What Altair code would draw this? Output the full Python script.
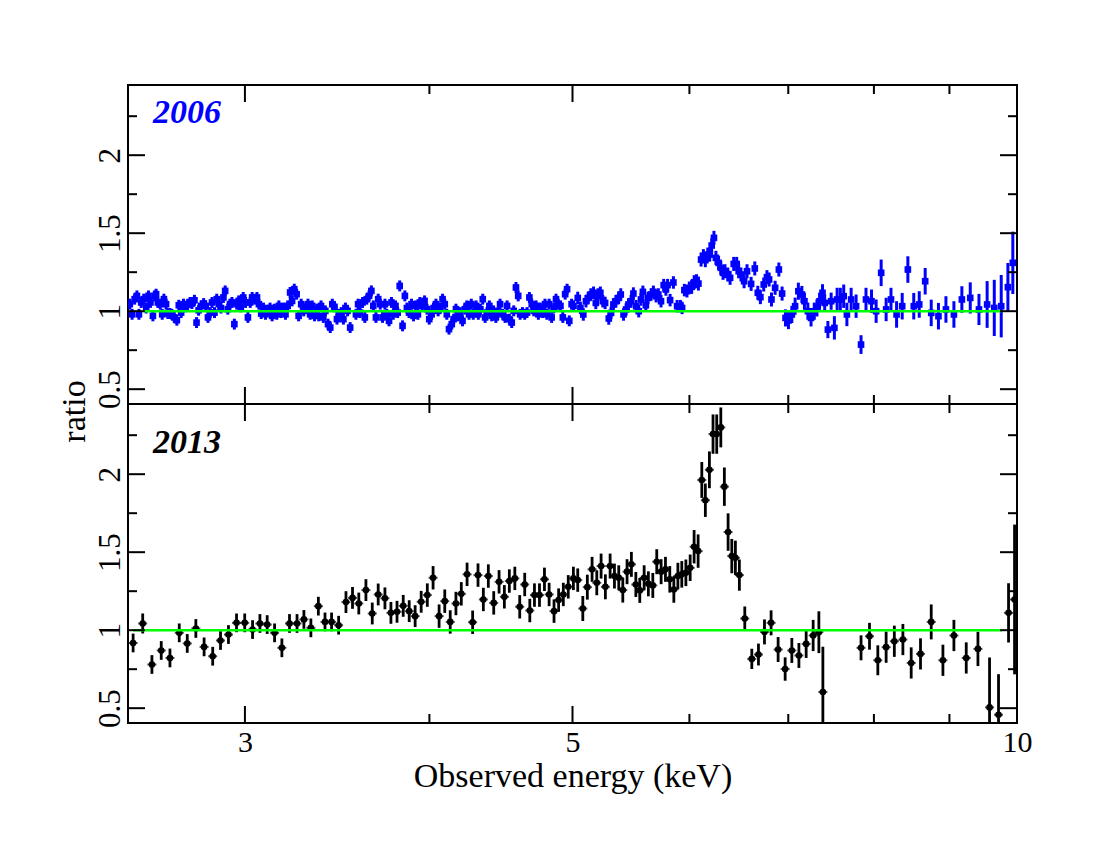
import altair as alt
import pandas as pd

# ---------------- data ----------------
energy_2006 = [
    2.507, 2.516, 2.526, 2.535, 2.543, 2.552, 2.562, 2.572, 2.581, 2.589,
    2.599, 2.606, 2.612, 2.619, 2.629, 2.637, 2.644, 2.653, 2.660, 2.669,
    2.677, 2.687, 2.698, 2.706, 2.716, 2.726, 2.735, 2.744, 2.754, 2.762,
    2.773, 2.782, 2.791, 2.802, 2.813, 2.822, 2.832, 2.842, 2.850, 2.861,
    2.871, 2.880, 2.890, 2.901, 2.909, 2.921, 2.931, 2.940, 2.951, 2.962,
    2.971, 2.981, 2.992, 3.003, 3.014, 3.025, 3.034, 3.046, 3.057, 3.066,
    3.077, 3.088, 3.098, 3.109, 3.120, 3.130, 3.141, 3.153, 3.163, 3.174,
    3.186, 3.196, 3.207, 3.219, 3.229, 3.240, 3.252, 3.262, 3.275, 3.288,
    3.298, 3.310, 3.321, 3.332, 3.344, 3.356, 3.366, 3.378, 3.390, 3.401,
    3.415, 3.427, 3.438, 3.450, 3.463, 3.473, 3.486, 3.498, 3.509, 3.521,
    3.535,
    3.567, 3.579, 3.590, 3.604, 3.617, 3.628, 3.641, 3.654, 3.665, 3.680,
    3.693, 3.705, 3.718, 3.732, 3.743, 3.756, 3.770, 3.781, 3.794, 3.807,
    3.819, 3.836, 3.850, 3.862, 3.875, 3.890, 3.902, 3.915, 3.929, 3.941,
    3.955, 3.970, 3.985, 3.999, 4.014, 4.026, 4.041, 4.055, 4.068, 4.083,
    4.097, 4.110, 4.124, 4.142, 4.154, 4.169, 4.184, 4.197, 4.212, 4.227,
    4.240, 4.255, 4.270, 4.283, 4.302, 4.317, 4.331, 4.347, 4.363, 4.376,
    4.392, 4.408, 4.421, 4.437, 4.452, 4.466, 4.485, 4.501, 4.515, 4.531,
    4.548, 4.562, 4.578, 4.594, 4.608, 4.625, 4.641, 4.658, 4.675, 4.692,
    4.707, 4.724, 4.741, 4.755, 4.773, 4.790, 4.804, 4.821, 4.840, 4.856,
    4.873, 4.890, 4.907, 4.925, 4.943, 4.958, 4.975, 4.993, 5.008,
    5.041, 5.062, 5.085, 5.106, 5.124, 5.145, 5.167, 5.185, 5.203, 5.222,
    5.242, 5.261, 5.291, 5.310, 5.329, 5.350, 5.373, 5.391, 5.414, 5.436,
    5.456, 5.478, 5.498, 5.521, 5.544, 5.563, 5.580, 5.606, 5.625, 5.652,
    5.672, 5.696, 5.716, 5.740, 5.764, 5.784, 5.799, 5.822, 5.852, 5.886,
    5.916, 5.932, 5.953, 5.977, 5.999, 6.021, 6.045, 6.067, 6.085, 6.110,
    6.132, 6.151, 6.174, 6.193, 6.212, 6.234, 6.253, 6.279, 6.301, 6.323,
    6.342, 6.370, 6.393, 6.429, 6.459, 6.479, 6.502, 6.534, 6.564, 6.606,
    6.644, 6.675, 6.702, 6.737, 6.771, 6.794, 6.819, 6.858, 6.898, 6.933,
    6.970, 7.002, 7.039, 7.075, 7.111, 7.150, 7.179, 7.217, 7.253, 7.290,
    7.320, 7.350, 7.384, 7.409, 7.446, 7.484, 7.522, 7.554, 7.592, 7.632,
    7.670, 7.721, 7.781, 7.841, 7.902, 7.970, 8.028, 8.091, 8.154, 8.216,
    8.288, 8.361, 8.435, 8.513, 8.586, 8.666, 8.748, 8.847, 8.951, 9.063,
    9.176, 9.297, 9.424, 9.545, 9.652, 9.757, 9.859, 9.935,
]
ratio_2006 = [
    1.045, 0.980, 1.077, 1.098, 0.980, 1.056, 1.077, 1.020, 1.098, 1.056,
    0.970, 1.098, 1.109, 1.056, 1.045, 0.980, 1.077, 1.045, 0.985, 0.985,
    0.980, 0.960, 0.942, 1.038, 0.991, 1.045, 1.028, 1.045, 1.056, 1.049,
    1.070, 0.927, 1.006, 1.034, 1.049, 1.034, 0.960, 0.991, 1.056, 0.991,
    1.077, 1.045, 1.020, 1.088, 1.130, 1.013, 1.045, 1.056, 0.917, 1.045,
    1.066, 1.028, 1.088, 1.056, 0.960, 1.056, 1.088, 1.077, 1.088, 1.045,
    0.985, 1.020, 0.980, 1.006, 1.020, 0.970, 1.013, 0.980, 1.034, 0.991,
    1.020, 0.980, 1.034, 1.120, 1.066, 1.141, 1.109, 0.970, 1.045, 1.002,
    1.020, 1.045, 0.980, 1.034, 0.970, 1.013, 0.970, 1.034, 0.960, 1.002,
    0.917, 0.895, 1.045, 1.028, 0.949, 0.980, 0.991, 0.949, 1.020, 1.002,
    0.895,
    0.980, 1.045, 0.991, 1.056, 0.960, 1.077, 1.098, 1.130, 1.034, 0.960,
    1.077, 1.045, 0.960, 1.045, 0.980, 0.938, 1.056, 0.980, 1.034, 0.991,
    1.162, 0.906, 1.098, 1.020, 0.991, 1.045, 0.970, 1.034, 0.980, 1.056,
    1.034, 1.066, 1.013, 0.949, 0.980, 1.020, 1.045, 1.002, 1.020, 1.077,
    1.045, 0.980, 0.885, 0.917, 0.949, 1.013, 0.970, 0.991, 0.938, 1.013,
    1.034, 0.980, 1.045, 0.980, 1.034, 0.980, 1.013, 1.077, 0.960, 0.991,
    1.034, 0.970, 1.002, 0.960, 0.991, 1.045, 0.980, 0.960, 1.034, 0.949,
    0.927, 1.002, 1.152, 1.098, 0.980, 0.991, 0.980, 0.991, 1.088, 1.045,
    1.002, 1.034, 0.980, 1.020, 0.991, 1.045, 0.980, 1.045, 0.960, 1.020,
    1.077, 1.045, 1.034, 0.960, 1.109, 1.141, 0.938, 1.045, 1.034,
    1.085, 1.021, 0.979, 1.064, 1.085, 1.107, 1.118, 1.053, 1.107, 1.118,
    1.064, 1.053, 0.953, 0.989, 1.043, 1.064, 1.085, 1.107, 0.979, 1.011,
    1.043, 1.064, 1.113, 1.032, 1.000, 1.075, 1.124, 1.038, 1.085, 1.107,
    1.124, 1.096, 1.107, 1.064, 1.167, 1.139, 1.167, 1.071, 1.184, 1.032,
    1.032, 1.021, 1.135, 1.128, 1.150, 1.156, 1.186, 1.192, 1.177, 1.331,
    1.353, 1.327, 1.363, 1.363, 1.421, 1.470, 1.342, 1.310, 1.278, 1.246,
    1.256, 1.235, 1.214, 1.303, 1.303, 1.256, 1.235, 1.192, 1.256, 1.175,
    1.274, 1.118, 1.090, 1.171, 1.218, 1.203, 1.075, 1.150, 1.267, 1.113,
    0.957, 0.940, 0.979, 1.032, 1.128, 1.107, 1.064, 1.000, 0.957, 1.000,
    1.021, 1.064, 1.118, 1.053, 0.882, 1.064, 0.893, 1.075, 1.075, 1.096,
    0.979, 1.075, 1.032, 0.786, 1.075, 1.064, 1.000, 1.246, 1.011, 1.075,
    0.979, 1.032, 1.267, 1.032, 1.043, 1.192, 0.989, 0.968, 1.011, 0.979,
    1.075, 1.085, 1.011, 1.043, 1.021, 1.032, 1.154, 1.310,
]
error_2006 = [
    0.035, 0.035, 0.035, 0.035, 0.035, 0.035, 0.035, 0.035, 0.035, 0.035,
    0.035, 0.035, 0.035, 0.035, 0.035, 0.035, 0.035, 0.035, 0.035, 0.035,
    0.035, 0.035, 0.035, 0.035, 0.035, 0.035, 0.035, 0.035, 0.035, 0.035,
    0.035, 0.035, 0.035, 0.035, 0.035, 0.035, 0.035, 0.035, 0.035, 0.035,
    0.035, 0.035, 0.035, 0.035, 0.035, 0.035, 0.035, 0.035, 0.035, 0.035,
    0.035, 0.035, 0.035, 0.035, 0.035, 0.035, 0.035, 0.035, 0.035, 0.035,
    0.035, 0.035, 0.035, 0.035, 0.035, 0.035, 0.035, 0.035, 0.035, 0.035,
    0.035, 0.035, 0.035, 0.035, 0.035, 0.035, 0.035, 0.035, 0.035, 0.035,
    0.035, 0.035, 0.035, 0.035, 0.035, 0.035, 0.035, 0.035, 0.035, 0.035,
    0.035, 0.035, 0.035, 0.035, 0.035, 0.035, 0.035, 0.035, 0.035, 0.035,
    0.035,
    0.035, 0.035, 0.035, 0.035, 0.035, 0.035, 0.035, 0.035, 0.035, 0.035,
    0.035, 0.035, 0.035, 0.035, 0.035, 0.035, 0.035, 0.035, 0.035, 0.035,
    0.035, 0.035, 0.035, 0.035, 0.035, 0.035, 0.035, 0.035, 0.035, 0.035,
    0.035, 0.035, 0.035, 0.035, 0.035, 0.035, 0.035, 0.035, 0.035, 0.035,
    0.035, 0.035, 0.035, 0.035, 0.035, 0.035, 0.035, 0.035, 0.035, 0.035,
    0.035, 0.035, 0.035, 0.035, 0.035, 0.035, 0.035, 0.035, 0.035, 0.035,
    0.035, 0.035, 0.035, 0.035, 0.035, 0.035, 0.035, 0.035, 0.035, 0.035,
    0.035, 0.035, 0.035, 0.035, 0.035, 0.035, 0.035, 0.035, 0.035, 0.035,
    0.035, 0.035, 0.035, 0.035, 0.035, 0.035, 0.035, 0.035, 0.035, 0.035,
    0.035, 0.035, 0.035, 0.035, 0.035, 0.035, 0.035, 0.035, 0.035,
    0.040, 0.040, 0.040, 0.040, 0.040, 0.040, 0.040, 0.040, 0.040, 0.040,
    0.040, 0.040, 0.040, 0.040, 0.040, 0.040, 0.040, 0.040, 0.040, 0.040,
    0.040, 0.040, 0.040, 0.040, 0.040, 0.040, 0.040, 0.040, 0.040, 0.040,
    0.040, 0.040, 0.040, 0.040, 0.040, 0.040, 0.040, 0.040, 0.040, 0.040,
    0.040, 0.040, 0.040, 0.040, 0.040, 0.045, 0.045, 0.045, 0.045, 0.045,
    0.045, 0.045, 0.045, 0.045, 0.045, 0.045, 0.045, 0.045, 0.045, 0.045,
    0.045, 0.045, 0.045, 0.045, 0.045, 0.045, 0.045, 0.045, 0.045, 0.045,
    0.045, 0.045, 0.045, 0.045, 0.045, 0.045, 0.045, 0.045, 0.045, 0.045,
    0.055, 0.055, 0.055, 0.055, 0.055, 0.055, 0.055, 0.055, 0.055, 0.055,
    0.055, 0.055, 0.055, 0.055, 0.055, 0.055, 0.075, 0.075, 0.075, 0.075,
    0.075, 0.075, 0.075, 0.060, 0.075, 0.075, 0.075, 0.085, 0.075, 0.075,
    0.085, 0.085, 0.085, 0.085, 0.085, 0.085, 0.085, 0.085, 0.085, 0.085,
    0.085, 0.100, 0.100, 0.150, 0.180, 0.200, 0.155, 0.200,
]

energy_2013 = [
    2.520, 2.558, 2.595, 2.633, 2.669, 2.708, 2.742, 2.779, 2.815, 2.853,
    2.888, 2.924, 2.961, 2.999, 3.036, 3.071, 3.106, 3.142, 3.178, 3.216,
    3.254, 3.289, 3.325, 3.364, 3.399, 3.434, 3.472, 3.512, 3.548, 3.583,
    3.623, 3.659, 3.693, 3.732, 3.767, 3.803, 3.840, 3.876, 3.912, 3.949,
    3.987, 4.023, 4.061, 4.097, 4.132, 4.169, 4.204, 4.242, 4.279, 4.315,
    4.351, 4.385, 4.422, 4.459, 4.496, 4.531, 4.570, 4.605, 4.641, 4.678,
    4.712, 4.749, 4.786, 4.821, 4.858, 4.893, 4.929, 4.967, 5.007, 5.041,
    5.081, 5.117, 5.155, 5.193, 5.228, 5.263, 5.302, 5.338, 5.374, 5.408,
    5.444, 5.481, 5.519, 5.553, 5.591, 5.628, 5.667, 5.702, 5.741, 5.780,
    5.819, 5.856, 5.893, 5.929, 5.967, 6.007, 6.044, 6.082, 6.117, 6.151,
    6.190, 6.225, 6.261, 6.301, 6.336, 6.373, 6.410, 6.446, 6.486, 6.541,
    6.613, 6.682, 6.745, 6.815, 6.890, 6.966, 7.039, 7.117, 7.198, 7.277,
    7.342, 7.388, 7.841, 7.945, 8.049, 8.154, 8.259, 8.370, 8.479, 8.603,
    8.748, 8.909, 9.063, 9.239, 9.409, 9.581, 9.716, 9.869, 9.962,
]
ratio_2013 = [
    0.918, 1.043, 0.780, 0.870, 0.822, 0.983, 0.915, 1.011, 0.893, 0.833,
    0.934, 0.972, 1.047, 1.047, 1.004, 1.043, 1.036, 0.983, 0.887, 1.043,
    1.043, 1.069, 1.015, 1.154, 1.053, 1.053, 1.032, 1.180, 1.207, 1.171,
    1.257, 1.107, 1.229, 1.204, 1.111, 1.118, 1.156, 1.122, 1.090, 1.182,
    1.225, 1.336, 1.090, 1.186, 1.053, 1.171, 1.233, 1.358, 1.051, 1.353,
    1.197, 1.347, 1.175, 1.310, 1.214, 1.315, 1.332, 1.150, 1.293, 1.126,
    1.225, 1.225, 1.326, 1.229, 1.122, 1.193, 1.229, 1.278, 1.332, 1.321,
    1.139, 1.276, 1.390, 1.304, 1.411, 1.278, 1.411, 1.347, 1.336, 1.257,
    1.375, 1.422, 1.293, 1.255, 1.336, 1.297, 1.287, 1.439, 1.375, 1.390,
    1.326, 1.261, 1.347, 1.358, 1.368, 1.400, 1.535, 1.507, 1.963, 1.833,
    2.028, 2.257, 2.257, 2.300, 1.920, 1.629, 1.475, 1.464, 1.353, 1.075,
    0.816, 0.844, 0.989, 1.047, 0.876, 0.751, 0.870, 0.838, 0.912, 0.966,
    0.987, 0.604, 0.887, 0.961, 0.807, 0.891, 0.929, 0.940, 0.790, 0.848,
    1.053, 0.807, 0.966, 0.822, 0.880, 0.505, 0.458, 1.111, 1.197,
]
error_2013 = [
    0.060, 0.064, 0.060, 0.060, 0.060, 0.060, 0.060, 0.060, 0.060, 0.060,
    0.060, 0.060, 0.060, 0.060, 0.060, 0.060, 0.060, 0.060, 0.060, 0.060,
    0.060, 0.060, 0.060, 0.060, 0.060, 0.060, 0.060, 0.070, 0.070, 0.070,
    0.070, 0.070, 0.070, 0.070, 0.070, 0.070, 0.070, 0.070, 0.070, 0.070,
    0.075, 0.075, 0.075, 0.075, 0.075, 0.075, 0.075, 0.075, 0.075, 0.075,
    0.075, 0.075, 0.075, 0.075, 0.075, 0.075, 0.075, 0.075, 0.075, 0.075,
    0.075, 0.075, 0.075, 0.075, 0.075, 0.075, 0.075, 0.075, 0.075, 0.075,
    0.080, 0.080, 0.080, 0.080, 0.080, 0.080, 0.080, 0.080, 0.080, 0.080,
    0.080, 0.080, 0.080, 0.080, 0.080, 0.080, 0.080, 0.080, 0.080, 0.080,
    0.085, 0.085, 0.085, 0.085, 0.085, 0.085, 0.107, 0.107, 0.115, 0.107,
    0.118, 0.126, 0.126, 0.128, 0.123, 0.120, 0.110, 0.110, 0.100, 0.077,
    0.065, 0.070, 0.080, 0.080, 0.080, 0.075, 0.080, 0.080, 0.090, 0.100,
    0.134, 0.290, 0.080, 0.086, 0.096, 0.100, 0.100, 0.100, 0.100, 0.100,
    0.112, 0.100, 0.100, 0.100, 0.110, 0.320, 0.260, 0.190, 0.480,
]

model_2006 = [2.56, 9.76]      # extent of the green model line (keV)
model_2013 = [2.52, 9.77]
model_level = [1.0]

x_major = [3, 5, 10]
x_minor = [4, 6, 7, 8, 9]
y_major = [0.5, 1, 1.5, 2]
y_minor = [0.75, 1.25, 1.75, 2.25]

# ---------------- styling ----------------
W, H = 889, 319
FONT = "Liberation Serif"
MAJ, MIN = 17, 9

xscale = alt.Scale(type="log", domain=[2.5, 10], nice=False)
yscale = alt.Scale(domain=[0.405, 2.45], nice=False, zero=False)

X_AXIS_LABELLED = alt.Axis(
    values=x_major, format="~g", ticks=False, domain=False, grid=False,
    labelFont=FONT, labelFontSize=30, labelColor="black", labelPadding=4,
    labelFlush=False, title="Observed energy (keV)", titleFont=FONT,
    titleFontSize=34, titleFontWeight="normal", titleColor="black",
    titleY=63, titleBaseline="alphabetic")
X_AXIS_BLANK = alt.Axis(values=x_major, ticks=False, domain=False, grid=False,
                        labels=False, title=None)
Y_COMMON = dict(values=y_major, format="~g", ticks=False, domain=False,
                grid=False, labelFont=FONT, labelFontSize=31,
                labelColor="black", labelAngle=270, labelAlign="center",
                labelBaseline="bottom", labelPadding=2)
Y_AXIS_TITLED = alt.Axis(
    title="ratio", titleFont=FONT, titleFontSize=34, titleFontWeight="normal",
    titleColor="black", titleAngle=270, titleX=-44, titleY=326,
    titleAlign="center", titleBaseline="alphabetic", **Y_COMMON)
Y_AXIS_PLAIN = alt.Axis(title=None, **Y_COMMON)


def tick_layers(xax, yax):
    layers = []
    for vals, ln in ((x_major, MAJ), (x_minor, MIN)):
        base = alt.Chart(pd.DataFrame({"t": vals})).mark_rule(color="black", strokeWidth=2)
        xe = alt.X("t:Q", scale=xscale, axis=xax)
        layers.append(base.encode(x=xe, y=alt.value(0), y2=alt.value(ln)))
        layers.append(base.encode(x=xe, y=alt.value(H), y2=alt.value(H - ln)))
    for vals, ln in ((y_major, MAJ), (y_minor, MIN)):
        base = alt.Chart(pd.DataFrame({"t": vals})).mark_rule(color="black", strokeWidth=2)
        ye = alt.Y("t:Q", scale=yscale, axis=yax)
        layers.append(base.encode(y=ye, x=alt.value(0), x2=alt.value(ln)))
        layers.append(base.encode(y=ye, x=alt.value(W), x2=alt.value(W - ln)))
    return layers


def panel(energy, ratio, err, model, color, shape, size, bar_w, label, label_y,
          xax, yax, hbar):
    df = pd.DataFrame({"E": energy, "ratio": ratio, "err": err})
    df["lo"] = df["ratio"] - df["err"]
    df["hi"] = df["ratio"] + df["err"]

    X = alt.X("E:Q", scale=xscale, axis=xax)
    base = alt.Chart(df)
    bars = base.mark_rule(color=color, strokeWidth=bar_w, clip=True).encode(
        x=X, y=alt.Y("lo:Q", scale=yscale, axis=yax), y2="hi:Q")
    pts = base.mark_point(shape=shape, filled=True, size=size, color=color,
                          opacity=1, clip=True).encode(
        x=X, y=alt.Y("ratio:Q", scale=yscale, axis=yax))
    layers = [bars, pts]
    if hbar:
        layers.append(base.mark_tick(orient="horizontal", size=9, thickness=2,
                                     color=color, clip=True).encode(
            x=X, y=alt.Y("ratio:Q", scale=yscale, axis=yax)))
    green = alt.Chart(pd.DataFrame({"e0": [model[0]], "e1": [model[1]],
                                    "r": model_level})).mark_rule(
        color="#00ff00", strokeWidth=2.6).encode(
        x=alt.X("e0:Q", scale=xscale, axis=xax), x2="e1:Q",
        y=alt.Y("r:Q", scale=yscale, axis=yax))
    layers.append(green)
    layers += tick_layers(xax, yax)
    txt = alt.Chart(pd.DataFrame({"label": [label]})).mark_text(
        font=FONT, fontSize=34, fontStyle="italic", fontWeight="bold",
        color=color, align="left", baseline="alphabetic").encode(
        x=alt.value(25), y=alt.value(label_y), text="label:N")
    layers.append(txt)
    return alt.layer(*layers).properties(width=W, height=H)


top = panel(energy_2006, ratio_2006, error_2006, model_2006, "#0000ff",
            "square", 44, 3, "2006", 38, X_AXIS_BLANK, Y_AXIS_TITLED, hbar=False)
bottom = panel(energy_2013, ratio_2013, error_2013, model_2013, "#000000",
               "circle", 44, 2.8, "2013", 49, X_AXIS_LABELLED, Y_AXIS_PLAIN, hbar=True)

chart = alt.vconcat(top, bottom, spacing=0, bounds="flush").properties(
    padding={"left": 48, "top": 75, "right": 40, "bottom": 20},
    background="white",
).configure_view(stroke="black", strokeWidth=2)

chart.save("out.html", embed_options={"renderer": "svg", "actions": False})
